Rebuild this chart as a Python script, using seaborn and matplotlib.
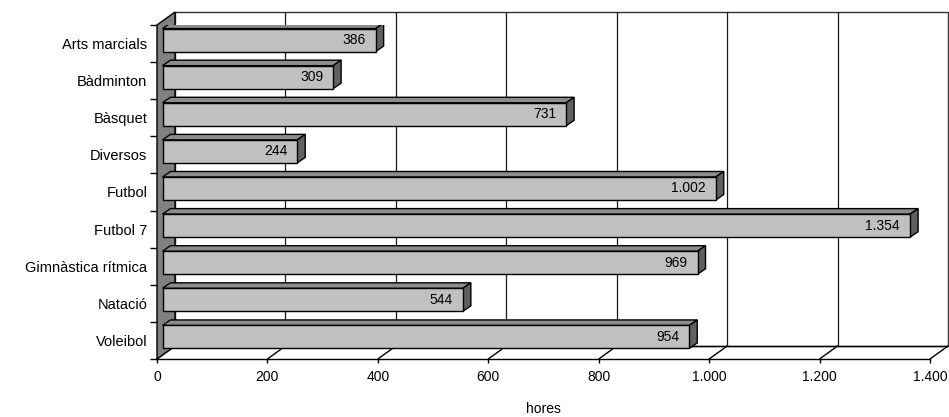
import numpy as np
import matplotlib
matplotlib.use('Agg')
import matplotlib.pyplot as plt
import seaborn as sns
import pandas as pd
from matplotlib.patches import Polygon

sports = ['Arts marcials', 'Bàdminton', 'Bàsquet', 'Diversos', 'Futbol',
          'Futbol 7', 'Gimnàstica rítmica', 'Natació', 'Voleibol']
hours = [386, 309, 731, 244, 1002, 1354, 969, 544, 954]
xticks = [0, 200, 400, 600, 800, 1000, 1200, 1400]


def fmt(v):
    # catalan thousands separator
    return f'{v:,}'.replace(',', '.')


sns.set_style('white')
plt.rcParams['font.family'] = ['Liberation Sans', 'DejaVu Sans']
plt.rcParams['font.size'] = 10
plt.rcParams['text.color'] = 'black'
plt.rcParams['xtick.color'] = 'black'
plt.rcParams['ytick.color'] = 'black'
plt.rcParams['axes.labelcolor'] = 'black'

W, H = 949, 417
fig = plt.figure(figsize=(W / 100, H / 100), dpi=100)
# front plane of the plot box, in pixels
L, R, T, B = 157, 930, 25, 359
ax = fig.add_axes([L / W, 1 - B / H, (R - L) / W, (B - T) / H])

df = pd.DataFrame({'sport': sports, 'hores': hours})
sns.barplot(data=df, x='hores', y='sport', orient='h', color='#c0c0c0',
            saturation=1, edgecolor='black', linewidth=1, width=0.62,
            ax=ax, zorder=5)

n = len(sports)
ax.set_xlim(0, 1400)
ax.set_ylim(n - 0.5, -0.5)

sx = (R - L) / 1400.0   # px per unit
sy = (B - T) / float(n)  # px per category


def off(px, py):
    # pixel shift (right, up) -> data shift
    return px / sx, -py / sy


# depth of the fake 3d box
DX, DY = off(18, 13)
y_top, y_bot = -0.5, n - 0.5

# back wall + grid
ax.add_patch(Polygon([(DX, y_bot + DY), (DX, y_top + DY), (1400 + DX, y_top + DY),
                      (1400 + DX, y_bot + DY)], closed=True, facecolor='white',
                     edgecolor='#303030', lw=1, clip_on=False, zorder=0))
for t in xticks[1:-1]:
    ax.plot([t + DX, t + DX], [y_bot + DY, y_top + DY], color='#1a1a1a', lw=0.9,
            clip_on=False, zorder=1)
# floor
ax.plot([DX, 1400 + DX], [y_bot + DY, y_bot + DY], color='black', lw=1, clip_on=False, zorder=1)
for t in xticks:
    ax.plot([t, t + DX], [y_bot, y_bot + DY], color='black', lw=1, clip_on=False, zorder=1)
# left wall
ax.add_patch(Polygon([(0, y_bot), (0, y_top), (DX, y_top + DY), (DX, y_bot + DY)],
                     closed=True, facecolor='#808080', edgecolor='black', lw=1,
                     clip_on=False, zorder=2))

# bars: push front face into the box, add top and side faces
f0x, f0y = off(5.5, 3.5)
f1x, f1y = off(13.5, 9)
for p, v in zip(ax.patches, hours):
    p.set_x(p.get_x() + f0x)
    p.set_y(p.get_y() + f0y)
    x0 = p.get_x()
    x1 = x0 + p.get_width()
    top = p.get_y()
    bot = top + p.get_height()
    ddx, ddy = f1x - f0x, f1y - f0y
    ax.add_patch(Polygon([(x0, top), (x1, top), (x1 + ddx, top + ddy), (x0 + ddx, top + ddy)],
                         closed=True, facecolor='#8c8c8c', edgecolor='black', lw=1, zorder=4))
    ax.add_patch(Polygon([(x1, top), (x1, bot), (x1 + ddx, bot + ddy), (x1 + ddx, top + ddy)],
                         closed=True, facecolor='#606060', edgecolor='black', lw=1, zorder=4))
    ax.annotate(fmt(v), xy=(x1, (top + bot) / 2), xytext=(-10, 0),
                textcoords='offset pixels', ha='right', va='center',
                fontsize=10, color='black', zorder=6)

for s in ['top', 'right', 'left']:
    ax.spines[s].set_visible(False)
ax.spines['bottom'].set_color('black')
ax.spines['bottom'].set_linewidth(1)

ax.set_xticks(xticks)
ax.set_xticklabels([fmt(t) for t in xticks])
ax.tick_params(axis='x', length=3, width=1, color='black', direction='out',
               pad=5, labelsize=10, bottom=True)
ax.set_yticks(range(n))
ax.set_yticklabels(sports)
ax.set_yticks(np.arange(-0.5, n, 1), minor=True)
ax.tick_params(axis='y', which='major', length=0, pad=7, labelsize=10.5, left=True)
ax.tick_params(axis='y', which='minor', length=5, width=1, color='black', left=True)
ax.set_xlabel('hores', fontsize=10, labelpad=13)
ax.set_ylabel('')

fig.savefig('out.png', dpi=100)
